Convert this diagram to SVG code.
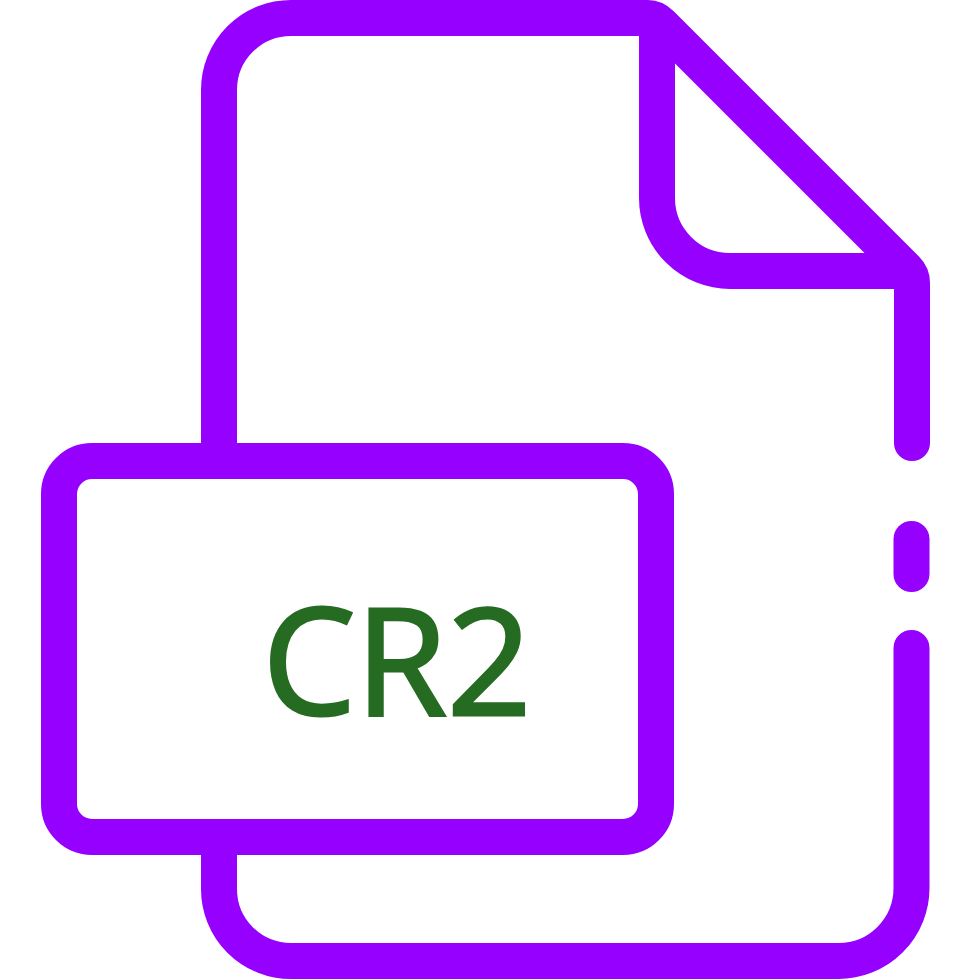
<svg xmlns="http://www.w3.org/2000/svg" width="972" height="980" viewBox="0 0 972 980">
<style>.s{fill:none;stroke:#9500ff;stroke-width:36;stroke-linecap:round;stroke-linejoin:round}.b{stroke-linecap:butt}.w{fill:#fff;stroke:none}text{font-family:"Open Sans","Noto Sans","Liberation Sans",sans-serif;fill:#266b22;stroke:#266b22;stroke-width:3}</style>
<rect class="w" width="972" height="980"/>
<g id="page">
<path class="s" d="M219 450V90A72 72 0 0 1 291 18H648Q655 18 661 24L906 269Q912 275 912 283V443"/>
<path class="s" d="M911.500 539V574"/>
<path class="s" d="M911.500 648V888A73 73 0 0 1 838.500 961H291A72 72 0 0 1 219 889V845"/>
<path class="s b" d="M657 18V198A73 73 0 0 0 730 271H912"/>
</g>
<g id="label">
<rect class="s" x="59" y="461" width="597" height="376" rx="33"/>
<text x="397" y="715" font-size="148" text-anchor="middle">CR2</text>
</g>
</svg>
